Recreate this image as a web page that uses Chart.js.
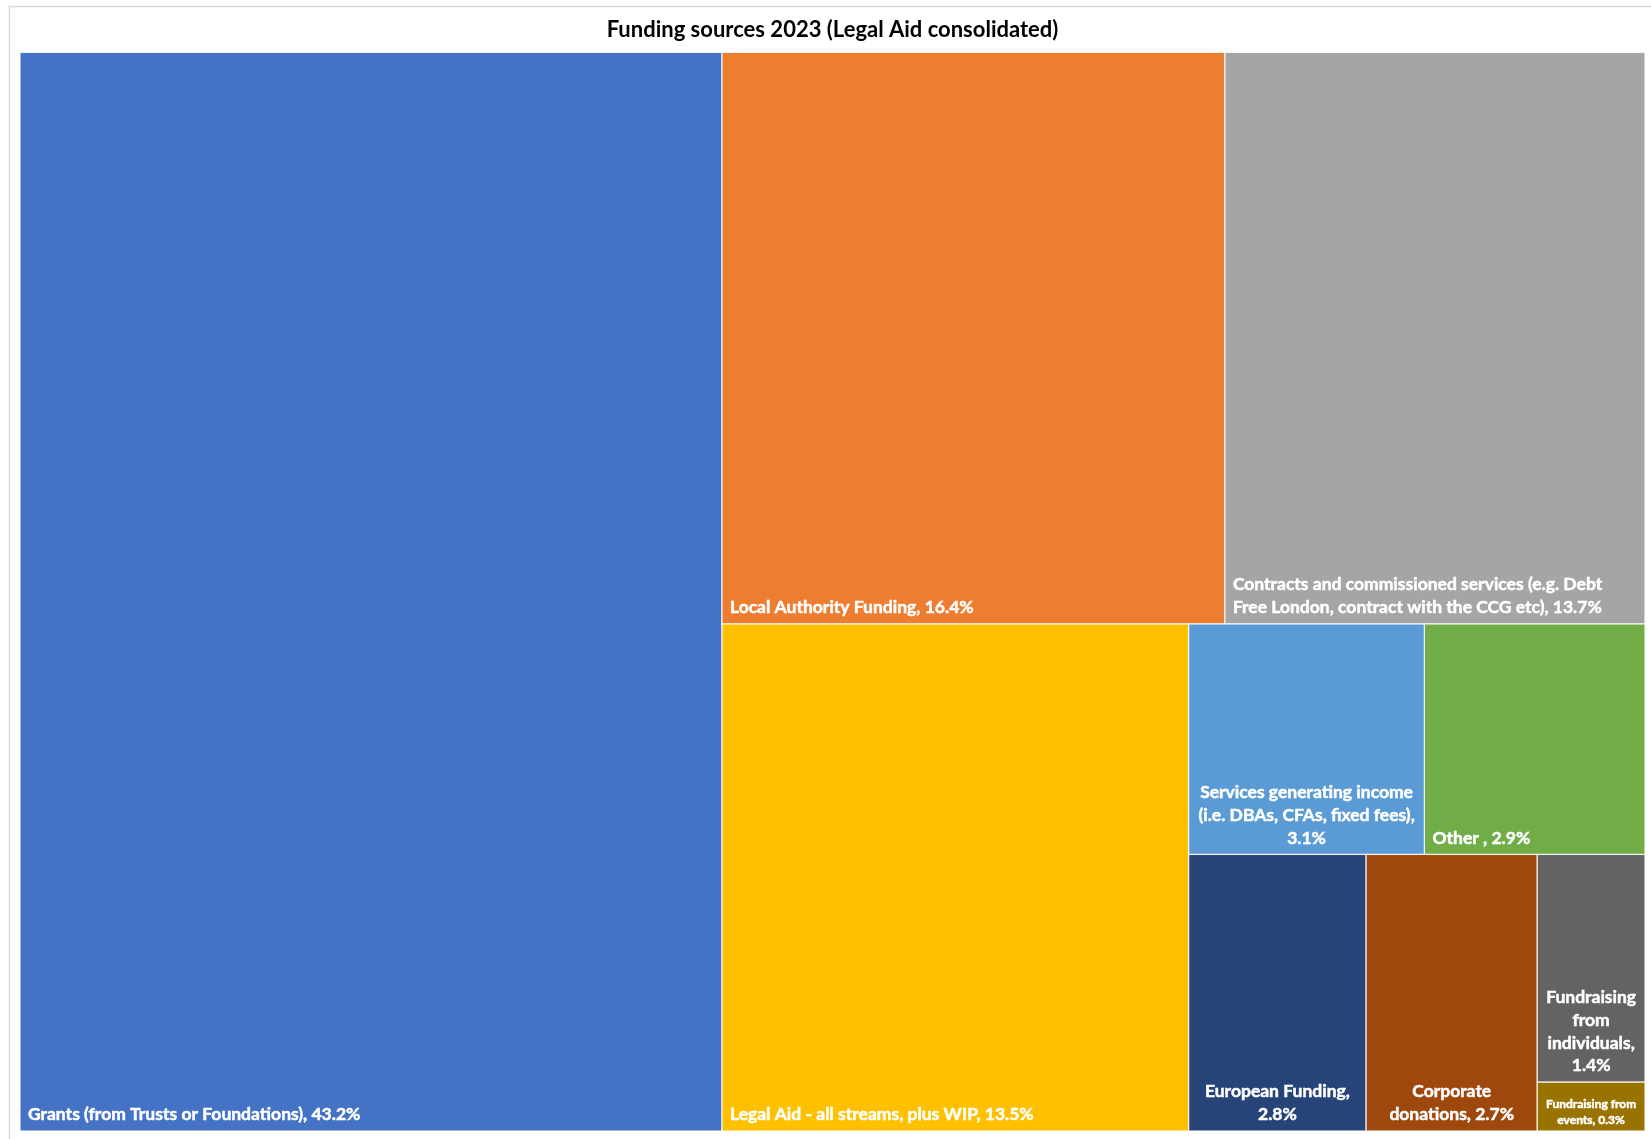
<!DOCTYPE html>
<html lang="en">
<head>
    <meta charset="UTF-8">
    <title>Funding sources 2023</title>
    <script src="https://cdn.jsdelivr.net/npm/chart.js"></script>
    <style>
        body { margin: 0; background: #fff; overflow: hidden; }
        canvas { display: block; }
    </style>
</head>
<body>
    <canvas id="fundingChart" width="1651" height="1139"></canvas>

    <script>
        // Funding sources, share of total income (%)
        const sources = [
            'Grants (from Trusts or Foundations)',
            'Local Authority Funding',
            'Contracts and commissioned services (e.g. Debt Free London, contract with the CCG etc)',
            'Legal Aid - all streams, plus WIP',
            'Services generating income (i.e. DBAs, CFAs, fixed fees)',
            'Other ',
            'European Funding',
            'Corporate donations',
            'Fundraising from individuals',
            'Fundraising from events'
        ];
        const shares = [43.2, 16.4, 13.7, 13.5, 3.1, 2.9, 2.8, 2.7, 1.4, 0.3];

        const colours = ['#4472C4', '#ED7D31', '#A5A5A5', '#FFC000', '#5B9BD5',
                         '#70AD47', '#264478', '#9E480E', '#636363', '#997300'];

        const labelFont = 'Lato, "DejaVu Sans", sans-serif';

        // worst aspect ratio of a row laid along a side of given length
        function worst(row, side) {
            const s = row.reduce((a, b) => a + b, 0);
            let w = 0;
            row.forEach(r => {
                w = Math.max(w, (side * side * r) / (s * s), (s * s) / (side * side * r));
            });
            return w;
        }

        // squarified layout, areas already scaled to the rectangle
        function squarify(areas, rect) {
            const cells = [];
            let { x, y, w, h } = rect;
            let i = 0;
            while (i < areas.length) {
                const side = Math.min(w, h);
                const row = [areas[i]];
                let best = worst(row, side);
                let j = i + 1;
                while (j < areas.length) {
                    const next = worst(row.concat(areas[j]), side);
                    if (next > best) break;
                    row.push(areas[j]);
                    best = next;
                    j++;
                }
                const sum = row.reduce((a, b) => a + b, 0);
                if (w >= h) {
                    const t = sum / h;
                    let yy = y;
                    row.forEach(v => { const hh = v / t; cells.push({ x: x, y: yy, w: t, h: hh }); yy += hh; });
                    x += t; w -= t;
                } else {
                    const t = sum / w;
                    let xx = x;
                    row.forEach(v => { const ww = v / t; cells.push({ x: xx, y: y, w: ww, h: t }); xx += ww; });
                    y += t; h -= t;
                }
                i = j;
            }
            return cells;
        }

        function wrapText(ctx, text, maxWidth) {
            const words = text.split(' ');
            const lines = [];
            let line = '';
            words.forEach(word => {
                const test = line ? line + ' ' + word : word;
                if (line && ctx.measureText(test).width > maxWidth) {
                    lines.push(line);
                    line = word;
                } else {
                    line = test;
                }
            });
            if (line) lines.push(line);
            return lines;
        }

        // light frame round the whole chart
        const frame = {
            id: 'frame',
            beforeDraw(chart) {
                const ctx = chart.ctx;
                ctx.save();
                ctx.strokeStyle = '#d9d9d9';
                ctx.lineWidth = 1.5;
                ctx.strokeRect(9.5, 6.5, chart.width + 20, chart.height + 20);
                ctx.restore();
            }
        };

        // treemap cells drawn through the x/y scales
        const treemapCells = {
            id: 'treemapCells',
            afterDatasetsDraw(chart) {
                const ctx = chart.ctx;
                const xs = chart.scales.x, ys = chart.scales.y;
                const area = chart.chartArea;
                const aspect = area.width / area.height;
                const total = shares.reduce((a, b) => a + b, 0);
                const areas = shares.map(v => v / total * aspect);
                const cells = squarify(areas, { x: 0, y: 0, w: aspect, h: 1 });

                ctx.save();
                cells.forEach((c, i) => {
                    const x0 = xs.getPixelForValue(c.x / aspect);
                    const x1 = xs.getPixelForValue((c.x + c.w) / aspect);
                    const y0 = ys.getPixelForValue(c.y);
                    const y1 = ys.getPixelForValue(c.y + c.h);
                    const w = x1 - x0, h = y1 - y0;

                    ctx.fillStyle = colours[i];
                    ctx.fillRect(x0, y0, w, h);
                    ctx.strokeStyle = 'rgba(255,255,255,0.85)';
                    ctx.lineWidth = 1.2;
                    ctx.strokeRect(x0, y0, w, h);

                    // label, shrunk until it fits the cell
                    const text = sources[i] + ', ' + shares[i].toFixed(1) + '%';
                    const maxWidth = w - 16;
                    let size = 17.5, lines, lh;
                    while (size > 7) {
                        ctx.font = 'bold ' + size + 'px ' + labelFont;
                        lines = wrapText(ctx, text, maxWidth);
                        lh = size * 1.3;
                        const widest = Math.max(...lines.map(l => ctx.measureText(l).width));
                        if (widest <= maxWidth && lines.length * lh <= h - 10) break;
                        size -= 0.5;
                    }
                    const left = lines.length === 1 || w > 300;
                    ctx.fillStyle = '#ffffff';
                    ctx.strokeStyle = '#ffffff';
                    ctx.lineWidth = 0.5;
                    ctx.textAlign = left ? 'left' : 'center';
                    ctx.textBaseline = 'alphabetic';
                    const tx = left ? x0 + 8 : x0 + w / 2;
                    let base = y1 - size * 0.62 - (lines.length - 1) * lh;
                    lines.forEach(l => {
                        ctx.fillText(l, tx, base);
                        ctx.strokeText(l, tx, base);
                        base += lh;
                    });
                });
                ctx.restore();
            }
        };

        const ctx = document.getElementById('fundingChart').getContext('2d');
        new Chart(ctx, {
            type: 'scatter',
            data: { datasets: [{ data: [] }] },
            options: {
                responsive: false,
                animation: false,
                layout: { padding: { left: 20, right: 6, top: 0, bottom: 8 } },
                scales: {
                    x: { display: false, min: 0, max: 1 },
                    y: { display: false, min: 0, max: 1, reverse: true }
                },
                plugins: {
                    legend: { display: false },
                    tooltip: { enabled: false },
                    title: {
                        display: true,
                        text: 'Funding sources 2023 (Legal Aid consolidated)',
                        color: '#000000',
                        font: { family: labelFont, size: 22, weight: 'bold' },
                        padding: { top: 17, bottom: 9 }
                    }
                }
            },
            plugins: [frame, treemapCells]
        });
    </script>
</body>
</html>
